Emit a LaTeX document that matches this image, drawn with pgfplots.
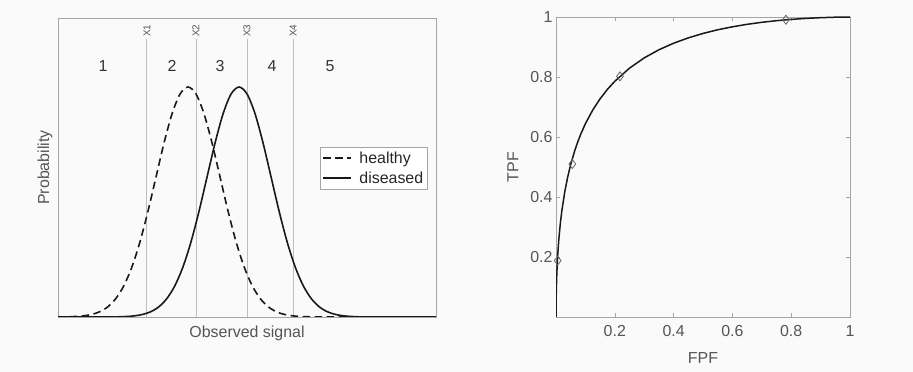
\documentclass[border=0pt]{standalone}
\usepackage{fontspec}
\setmainfont{Liberation Sans}
\usepackage{pgfplots}
\pgfplotsset{compat=1.18}
\definecolor{axgray}{RGB}{165,165,165}
\definecolor{txtgray}{RGB}{85,85,85}
\definecolor{vgray}{RGB}{190,190,190}
\definecolor{bg}{RGB}{250,250,250}
\definecolor{mkgray}{RGB}{100,100,100}
\definecolor{crv}{RGB}{25,25,25}
\newcommand{\fs}{\fontsize{16}{19}\selectfont}
\begin{document}
\begin{tikzpicture}
\path[use as bounding box, fill=bg] (0,0) rectangle (913bp,372bp);
\pgfplotsset{
  every axis/.append style={font=\fs, axis line style={axgray, line width=0.8bp}},
  /pgf/number format/assume math mode=true,
}
% ---------------- left panel ----------------
\begin{axis}[
  at={(58bp,55bp)}, anchor=south west, scale only axis,
  width=378bp, height=299bp,
  xmin=0, xmax=10, ymin=0, ymax=1.3,
  xtick=\empty, ytick=\empty,
  axis background/.style={fill=bg},
  xlabel={Observed signal}, ylabel={Probability},
  xlabel style={at={([yshift=-16bp]axis description cs:0.5,0)}, anchor=center, text=txtgray},
  ylabel style={at={([xshift=-13bp]axis description cs:0,0.5)}, anchor=center, text=txtgray},
  legend style={at={(0.976,0.498)}, anchor=east, draw=axgray, fill=white,
    font=\fs, text=black!85, inner xsep=2bp, inner ysep=3bp,
    nodes={inner sep=1.5bp}, row sep=4bp, column sep=6bp},
  legend cell align=left,
  legend image code/.code={\draw[#1] (0bp,0bp) -- (28bp,0bp);},
]
\addplot[vgray, line width=0.8bp, forget plot] coordinates {(2.35,0) (2.35,1.209)};
\addplot[vgray, line width=0.8bp, forget plot] coordinates {(3.65,0) (3.65,1.209)};
\addplot[vgray, line width=0.8bp, forget plot] coordinates {(5.00,0) (5.00,1.209)};
\addplot[vgray, line width=0.8bp, forget plot] coordinates {(6.22,0) (6.22,1.209)};
% healthy
\addplot[crv, line width=1.6bp, dash pattern=on 7.5bp off 4.5bp, smooth] coordinates {
(0,0) (0.04,0.0003) (0.465,0.0022) (0.6775,0.0051) (0.89,0.0111) (1.1025,0.0228)
(1.315,0.0439) (1.5275,0.0796) (1.74,0.1353) (1.9525,0.2163) (2.165,0.3247)
(2.3775,0.4578) (2.59,0.6065) (2.8025,0.7548) (3.015,0.8825) (3.2275,0.9692)
(3.44,1) (3.6525,0.9692) (3.865,0.8825) (4.0775,0.7548) (4.29,0.6065)
(4.5025,0.4578) (4.715,0.3247) (4.9275,0.2163) (5.14,0.1353) (5.3525,0.0796)
(5.565,0.0439) (5.7775,0.0228) (5.99,0.0111) (6.2025,0.0051) (6.415,0.0022)
(6.84,0.0003) (7.8,0)};
\addlegendentry{healthy}
% diseased
\addplot[crv, line width=1.6bp, smooth] coordinates {
(0,0) (1.39,0.0003) (1.815,0.0022) (2.0275,0.0051) (2.24,0.0111) (2.4525,0.0228)
(2.665,0.0439) (2.8775,0.0796) (3.09,0.1353) (3.3025,0.2163) (3.515,0.3247)
(3.7275,0.4578) (3.94,0.6065) (4.1525,0.7548) (4.365,0.8825) (4.5775,0.9692)
(4.79,1) (5.0025,0.9692) (5.215,0.8825) (5.4275,0.7548) (5.64,0.6065)
(5.8525,0.4578) (6.065,0.3247) (6.2775,0.2163) (6.49,0.1353) (6.7025,0.0796)
(6.915,0.0439) (7.1275,0.0228) (7.34,0.0111) (7.5525,0.0051) (7.765,0.0022)
(8.19,0.0003) (10,0)};
\addlegendentry{diseased}
\foreach \xx/\lab in {2.35/X1, 3.65/X2, 5.00/X3, 6.22/X4}{
  \edef\tmp{\noexpand\node[rotate=90, anchor=west, font=\noexpand\fontsize{10}{12}\noexpand\selectfont, text=txtgray, inner sep=1bp] at (axis cs:\xx,1.213) {\lab};}
  \tmp
}
\node[text=black!80] at (axis cs:1.19,1.091) {1};
\node[text=black!80] at (axis cs:3.02,1.091) {2};
\node[text=black!80] at (axis cs:4.29,1.091) {3};
\node[text=black!80] at (axis cs:5.66,1.091) {4};
\node[text=black!80] at (axis cs:7.20,1.091) {5};
\end{axis}
% ---------------- right panel ----------------
\begin{axis}[
  at={(556bp,55bp)}, anchor=south west, scale only axis,
  width=294bp, height=300bp,
  xmin=0, xmax=1, ymin=0, ymax=1,
  xtick={0.2,0.4,0.6,0.8,1}, ytick={0.2,0.4,0.6,0.8,1},
  tick align=inside, major tick length=4bp,
  tick style={axgray, line width=0.6bp},
  ticklabel style={text=txtgray, /pgf/number format/fixed},
  xticklabel style={yshift=-5bp},
  axis background/.style={fill=bg},
  xlabel={FPF}, ylabel={TPF},
  xlabel style={at={([yshift=-41bp]axis description cs:0.5,0)}, anchor=center, text=txtgray},
  ylabel style={at={([xshift=-43bp]axis description cs:0,0.5)}, anchor=center, text=txtgray},
]
\addplot[crv, line width=1.5bp] coordinates {
(0,0) (0.00001,0.0063) (0.0001,0.0244) (0.0002,0.0361) (0.0005,0.0595) (0.001,0.0860)
(0.002,0.1224) (0.003,0.1497) (0.005,0.1913) (0.0075,0.2312) (0.01,0.2634)
(0.015,0.3146) (0.02,0.3549) (0.03,0.4184) (0.04,0.4677) (0.05,0.5084)
(0.065,0.5584) (0.075,0.5863) (0.085,0.6114) (0.1,0.6443) (0.125,0.6900)
(0.15,0.7274) (0.175,0.7590) (0.2,0.7858) (0.25,0.8295) (0.3,0.8637)
(0.35,0.8907) (0.4,0.9126) (0.45,0.9304) (0.5,0.9452) (0.55,0.9574)
(0.6,0.9673) (0.65,0.9756) (0.7,0.9823) (0.75,0.9877) (0.8,0.9920)
(0.85,0.9953) (0.9,0.9977) (0.95,0.9993) (1,1)};
\addplot[only marks, mark=diamond, mark size=4.5bp, mark options={draw=mkgray, fill=none, line width=0.8bp}] coordinates {
(0.0057,0.188) (0.0556,0.51) (0.2177,0.802) (0.782,0.991)};
\end{axis}
\end{tikzpicture}
\end{document}
